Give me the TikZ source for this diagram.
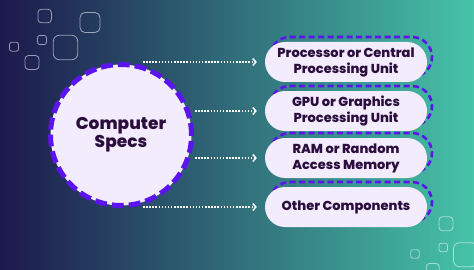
\documentclass[tikz,border=0pt]{standalone}
\usepackage{fontspec}
\setmainfont{Poppins}[BoldFont={Poppins ExtraBold}]
\usetikzlibrary{arrows.meta}
\definecolor{bgleft}{HTML}{1C194C}
\definecolor{bgright}{HTML}{46C3A8}
\definecolor{specpurple}{HTML}{5B14EE}
\definecolor{specfill}{HTML}{F3ECFC}
\definecolor{spectext}{HTML}{2B0E3E}
\tikzset{
  specbox/.style={fill=specfill, rounded corners=20pt, minimum width=162pt,
    minimum height=40pt, inner sep=0pt, align=center, text=spectext,
    font=\bfseries\fontsize{13}{16}\selectfont},
  specdash/.style={draw=specpurple, line width=2.6pt, dash pattern=on 6pt off 3.5pt,
    rounded corners=20pt},
  specarrow/.style={white, line width=1.5pt, dash pattern=on 1.5pt off 1.6pt,
    -{Straight Barb[length=3pt,width=7pt,line width=1.5pt]}, shorten >=8pt},
  deco/.style={draw=white, draw opacity=0.55, line width=0.8pt, rounded corners=#1},
  deco/.default=2.5pt
}
\newcommand{\decosq}[3]{% centre x, centre y, size
  \draw[deco={0.25*#3}] ({#1-#3/2},{#2-#3/2}) rectangle ({#1+#3/2},{#2+#3/2});
}

\begin{document}
\begin{tikzpicture}[x=1pt,y=-1pt]
  % background
  \shade[left color=bgleft, right color=bgright] (0,0) rectangle (474,270);
  \useasboundingbox (0,0) rectangle (474,270);

  % little squares, top left
  \decosq{44.7}{16}{13.5}
  \decosq{90}{22.5}{20}
  \decosq{42}{40}{9}
  \decosq{65.5}{47.5}{24.5}
  \decosq{14}{46.7}{9}
  \decosq{32}{62.5}{14}
  % and bottom right
  \decosq{446}{223.7}{14}
  \decosq{443.3}{247.5}{8.5}
  \decosq{415}{254}{8.5}
  \decosq{465.5}{254.7}{24}
  \decosq{432.7}{270}{13}

  % centre
  \node (specs) [circle, fill=specfill, draw=specpurple, line width=5pt,
    dash pattern=on 12pt off 5pt, minimum size=141pt, inner sep=0pt,
    align=center, text=spectext, font=\bfseries\fontsize{17}{16.5}\selectfont]
    at (121,135) {Computer\\Specs};

  % items
  \foreach \txt/\y/\sx [count=\i] in {{Processor or Central\\Processing Unit}/62/143,
      {GPU or Graphics\\Processing Unit}/111/195,
      {RAM or Random\\Access Memory}/158/195,
      {Other Components}/207/143}{
    \draw[specdash] (270,{\y-25}) rectangle (432,{\y+15});
    \node (box\i) [specbox] at (346,\y) {\txt};
    \coordinate (start\i) at (\sx,\y);
    \draw[specarrow] (start\i) -- (box\i.west);
  }
\end{tikzpicture}
\end{document}
